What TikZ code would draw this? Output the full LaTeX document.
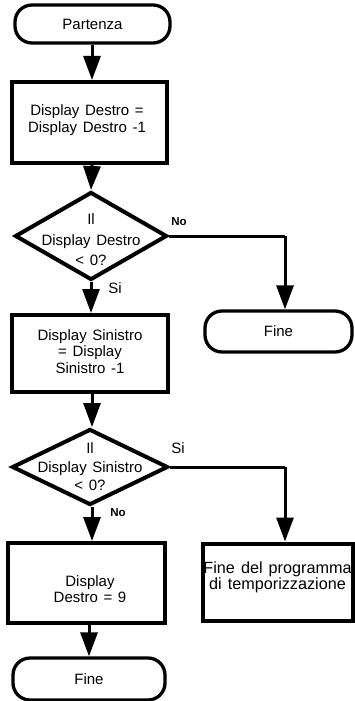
\documentclass[tikz,border=0pt]{standalone}
\usepackage{fontspec}
\setmainfont[WordSpace=1.35]{Liberation Sans}
\usetikzlibrary{arrows.meta,shapes.geometric}
\begin{document}
\begin{tikzpicture}[x=1pt,y=-1pt,
  every node/.style={font=\fontsize{15}{16.5}\selectfont, inner sep=0pt},
  term/.style={draw, line width=3.3pt, rounded corners=17pt, align=center},
  proc/.style={draw, line width=4pt, align=center},
  decis/.style={draw, diamond, line width=4pt},
  lbl/.style={align=center},
  conn/.style={line width=3pt},
  arr/.style={line width=3pt, -{Triangle[length=24pt,width=17pt]}}
]
\useasboundingbox (0,0) rectangle (354,701);
% nodes
\node[term, minimum width=155pt, minimum height=38pt] (start) at (92.5,24) {Partenza};
\node[proc, minimum width=155pt, minimum height=81pt] (b1) at (89.5,122.5) {};
\node[lbl] (b1t) at (87,120) {Display Destro =\\Display Destro -1};
\node[decis, minimum width=152pt, minimum height=88pt] (d1) at (91,236) {};
\node[lbl, font=\fontsize{15}{20.5}\selectfont] (d1t) at (91,240) {Il\\Display Destro\\< 0?};
\node[font=\fontsize{11.5}{13}\selectfont\bfseries] (no1) at (179,222) {No};
\node (si1) at (115,288) {Si};
\node[term, minimum width=147pt, minimum height=41pt] (f1) at (278.5,331.5) {Fine};
\node[proc, minimum width=156pt, minimum height=77pt] (b2) at (90,353.5) {};
\node[lbl] (b2t) at (90,351.5) {Display Sinistro\\= Display\\Sinistro -1};
\node[decis, minimum width=156pt, minimum height=76pt] (d2) at (90,467) {};
\node[lbl, font=\fontsize{15}{18.5}\selectfont] (d2t) at (90,467) {Il\\Display Sinistro\\< 0?};
\node (si2) at (178,448) {Si};
\node[font=\fontsize{11.5}{13}\selectfont\bfseries] (no2) at (118,513) {No};
\node[proc, minimum width=157pt, minimum height=80pt] (b3) at (86.5,583) {};
\node[lbl] (b3t) at (90,589) {Display\\Destro = 9};
\node[proc, minimum width=150pt, minimum height=77pt] (b4) at (277.5,582) {};
\node[lbl, font=\fontsize{16.2}{16}\selectfont] (b4t) at (277.5,577) {Fine del programma\\di temporizzazione};
\node[term, minimum width=152pt, minimum height=42pt] (f2) at (89,679) {Fine};
% connectors
\coordinate (mx) at (92,0);
\coordinate (mx2) at (89,0);
\coordinate (c1) at (285,236);
\coordinate (c2) at (285,467);
\draw[arr] (start.south -| mx) -- (b1.north -| mx);
\draw[arr] (b1.south -| mx) -- (d1.north);
\draw[arr] (d1.south) -- (d1.south |- b2.north);
\draw[arr] (b2.south -| mx) -- (d2.north -| mx);
\draw[arr] (d2.south -| mx) -- (b3.north -| mx);
\draw[arr] (b3.south -| mx2) -- (f2.north);
\draw[conn] (d1.east) -- (c1);
\draw[arr] (c1) -- (c1 |- f1.north);
\draw[conn] (d2.east) -- (c2);
\draw[arr] (c2) -- (c2 |- b4.north);
\end{tikzpicture}
\end{document}
